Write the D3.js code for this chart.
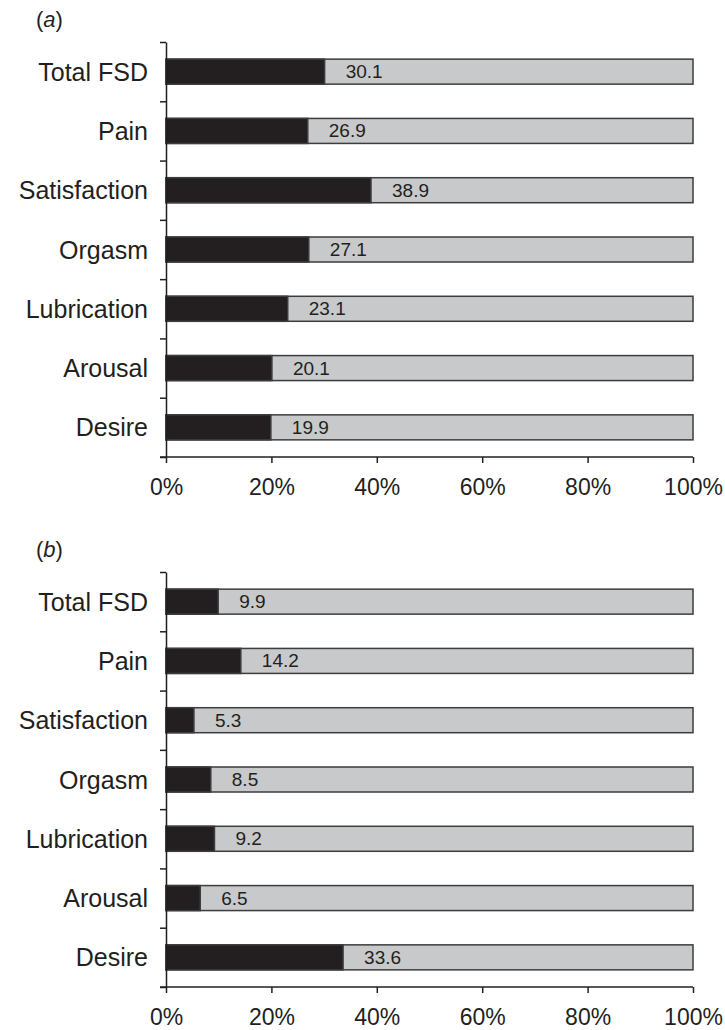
<html>
  <head>
    <meta charset='utf-8'>
    <script src='https://d3js.org/d3.v7.min.js'></script>
    <style>
      body { margin: 0; background: #fff; }
      text { font-family: 'Liberation Sans', Arial, sans-serif; fill: #231f20; }
    </style>
  </head>
  <body>
    <div id='chart'></div>
    <script>
        // categories, top to bottom
        const categories = ['Total FSD', 'Pain', 'Satisfaction', 'Orgasm', 'Lubrication', 'Arousal', 'Desire'];
        const valuesA = [30.1, 26.9, 38.9, 27.1, 23.1, 20.1, 19.9];
        const valuesB = [9.9, 14.2, 5.3, 8.5, 9.2, 6.5, 33.6];
        const xTicks = [0, 20, 40, 60, 80, 100];

        const W = 725, H = 1030;
        const left = 166, right = 693;
        const barH = 25;

        var svg = d3.select('#chart').append('svg')
            .attr('width', W)
            .attr('height', H);

        const x = d3.scaleLinear().domain([0, 100]).range([left, right]);

        function panel(letter, values, top, bottom) {
            var g = svg.append('g');

            var t = g.append('text')
                .attr('x', 36).attr('y', top - 15)
                .style('font-size', '22px');
            t.append('tspan').text('(');
            t.append('tspan').style('font-style', 'italic').text(letter);
            t.append('tspan').text(')');

            const y = d3.scaleBand().domain(categories).range([top, bottom]).padding(0);
            const yTickScale = d3.scaleLinear().domain([0, categories.length]).range([top, bottom]);

            // bars: grey full row + dark share
            var rows = g.selectAll('g.row').data(categories).enter().append('g').attr('class', 'row');
            rows.append('rect')
                .attr('x', x(0))
                .attr('y', d => y(d) + (y.bandwidth() - barH) / 2)
                .attr('width', x(100) - x(0))
                .attr('height', barH)
                .attr('fill', '#c8c9ca')
                .attr('stroke', '#3d3d3d')
                .attr('stroke-width', 1.5);
            rows.append('rect')
                .attr('x', x(0))
                .attr('y', (d) => y(d) + (y.bandwidth() - barH) / 2)
                .attr('width', (d, i) => x(values[i]) - x(0))
                .attr('height', barH)
                .attr('fill', '#231f20')
                .attr('stroke', '#3d3d3d')
                .attr('stroke-width', 1.5);
            rows.append('text')
                .attr('x', (d, i) => x(values[i]) + 21)
                .attr('y', d => y(d) + y.bandwidth() / 2 + 6.5)
                .style('font-size', '19px')
                .text((d, i) => values[i].toFixed(1));

            // category labels
            g.selectAll('text.cat').data(categories).enter().append('text')
                .attr('class', 'cat')
                .attr('x', 148)
                .attr('y', d => y(d) + y.bandwidth() / 2 + 9)
                .attr('text-anchor', 'end')
                .style('font-size', '25px')
                .text(d => d);

            // y axis with ticks between categories
            var ya = g.append('g')
                .attr('transform', 'translate(' + left + ',0)')
                .call(d3.axisLeft(yTickScale).tickValues(d3.range(categories.length + 1)).tickSize(6).tickSizeOuter(0).tickFormat(''));
            ya.select('.domain').attr('stroke', '#231f20').attr('stroke-width', 1.5);
            ya.selectAll('line').attr('stroke', '#231f20').attr('stroke-width', 1.5);

            // x axis
            var xa = g.append('g')
                .attr('transform', 'translate(0,' + bottom + ')')
                .call(d3.axisBottom(x).tickValues(xTicks).tickSize(6).tickSizeOuter(0).tickFormat(d => d + '%'));
            xa.select('.domain').attr('stroke', '#231f20').attr('stroke-width', 1.5)
                .attr('d', 'M' + (left - 6) + ',0H' + right);
            xa.selectAll('line').attr('stroke', '#231f20').attr('stroke-width', 1.5);
            xa.selectAll('text')
                .attr('y', 38).attr('dy', null)
                .style('font-size', '23px')
                .style('font-family', "'Liberation Sans', Arial, sans-serif")
                .attr('fill', '#231f20');
        }

        panel('a', valuesA, 42, 457);
        panel('b', valuesB, 572, 987);
    </script>
  </body>
</html>
